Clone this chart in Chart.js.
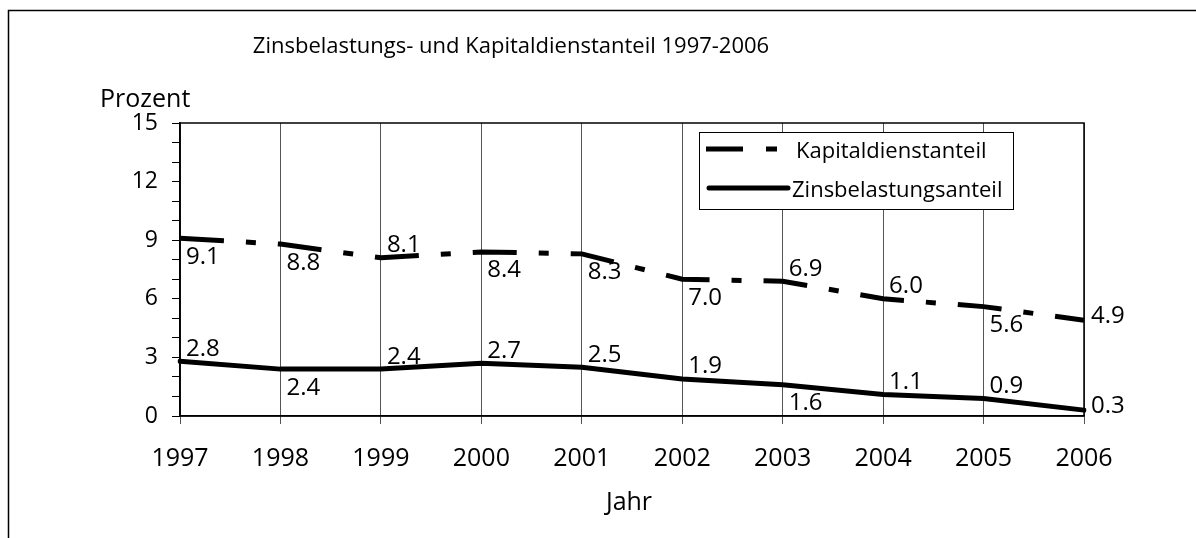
<!DOCTYPE html>
<html>
<head>
<meta charset="utf-8">
<script src="https://cdn.jsdelivr.net/npm/chart.js@4"></script>
<style>
  html, body { margin: 0; padding: 0; background: #fff; }
  canvas { display: block; }
</style>
</head>
<body>
<canvas id="zinsChart" width="1196" height="538"></canvas>
<script>
"use strict";

// data
const years = ["1997", "1998", "1999", "2000", "2001", "2002", "2003", "2004", "2005", "2006"];
const kapitaldienst = [9.1, 8.8, 8.1, 8.4, 8.3, 7.0, 6.9, 6.0, 5.6, 4.9];
const zinsbelastung = [2.8, 2.4, 2.4, 2.7, 2.5, 1.9, 1.6, 1.1, 0.9, 0.3];
const yTicks = [0, 3, 6, 9, 12, 15];

// where each value label sits (a = above, b = below, r = right)
const kapitalLabelPos = ["b", "b", "a", "b", "b", "b", "a", "a", "b", "r"];
const zinsLabelPos = ["a", "b", "a", "a", "a", "a", "b", "a", "a", "r"];

const FONT = "'Open Sans', 'Noto Sans', sans-serif";
const DASH = [44, 22, 10, 22];

Chart.defaults.font.family = FONT;
Chart.defaults.color = "#000";

// value labels, legend box, title and frame
const extras = {
    id: "extras",
    afterDatasetsDraw(chart) {
        const c = chart.ctx;
        c.save();
        c.font = "24px " + FONT;
        c.fillStyle = "#000";
        c.textBaseline = "alphabetic";
        c.textAlign = "left";
        const sets = [[kapitaldienst, kapitalLabelPos], [zinsbelastung, zinsLabelPos]];
        sets.forEach(function (s, i) {
            const meta = chart.getDatasetMeta(i);
            meta.data.forEach(function (pt, j) {
                const txt = s[0][j].toFixed(1);
                const pos = s[1][j];
                let x = pt.x + 6, y = pt.y;
                if (pos === "a") y = y - 14 + 8.5;
                else if (pos === "b") y = y + 17 + 8.5;
                else { x = pt.x + 7; y = y - 6 + 8.5; }
                c.fillText(txt, x, y);
            });
        });
        c.restore();
    },
    afterDraw(chart) {
        const c = chart.ctx;
        const a = chart.chartArea;
        c.save();
        // plot area border
        c.strokeStyle = "#000";
        c.lineWidth = 1.5;
        c.strokeRect(a.left, a.top, a.right - a.left, a.bottom - a.top);

        // legend
        c.fillStyle = "#fff";
        c.fillRect(699, 132, 314, 77);
        c.lineWidth = 1;
        c.strokeRect(699.5, 132.5, 314, 77);
        c.strokeStyle = "#000";
        c.lineWidth = 5;
        c.setLineDash([37, 23, 11, 100]);
        c.beginPath();
        c.moveTo(706, 149);
        c.lineTo(790, 149);
        c.stroke();
        c.setLineDash([]);
        c.lineCap = "round";
        c.beginPath();
        c.moveTo(709, 188);
        c.lineTo(788, 188);
        c.stroke();
        c.fillStyle = "#000";
        c.font = "22px " + FONT;
        c.textAlign = "left";
        c.textBaseline = "alphabetic";
        c.fillText("Kapitaldienstanteil", 796, 158);
        c.fillText("Zinsbelastungsanteil", 792, 197);

        // title and axis titles
        c.textAlign = "center";
        c.font = "22px " + FONT;
        c.fillText("Zinsbelastungs- und Kapitaldienstanteil 1997-2006", 511, 53);
        c.font = "25px " + FONT;
        c.fillText("Jahr", 629, 510);
        c.textAlign = "left";
        c.fillText("Prozent", 100, 107);

        // outer frame
        c.lineWidth = 1.5;
        c.beginPath();
        c.moveTo(8.5, 538);
        c.lineTo(8.5, 10.5);
        c.lineTo(1196, 10.5);
        c.stroke();
        c.restore();
    }
};

const ctx = document.getElementById("zinsChart").getContext("2d");

new Chart(ctx, {
    type: "line",
    data: {
        labels: years,
        datasets: [{
            label: "Kapitaldienstanteil",
            data: kapitaldienst,
            borderColor: "#000",
            borderWidth: 5,
            borderDash: DASH,
            borderCapStyle: "butt",
            pointRadius: 0,
            tension: 0,
            fill: false
        }, {
            label: "Zinsbelastungsanteil",
            data: zinsbelastung,
            borderColor: "#000",
            borderWidth: 5,
            borderCapStyle: "round",
            pointRadius: 0,
            tension: 0,
            fill: false
        }]
    },
    options: {
        responsive: false,
        animation: false,
        layout: { padding: { top: 123, right: 112, left: 0, bottom: 0 } },
        plugins: {
            legend: { display: false },
            title: { display: false },
            tooltip: { enabled: false }
        },
        scales: {
            x: {
                offset: false,
                afterFit: function (scale) { scale.height = 122; },
                grid: { color: "#555", lineWidth: 1, tickLength: 8, offset: false },
                border: { color: "#000", width: 1.5 },
                ticks: { font: { size: 25 }, padding: 20, maxRotation: 0, autoSkip: false }
            },
            y: {
                min: 0,
                max: 15,
                afterFit: function (scale) { scale.width = 180; },
                grid: { drawOnChartArea: false, color: "#000", tickLength: 8 },
                border: { color: "#000", width: 1.5 },
                ticks: {
                    stepSize: 1,
                    autoSkip: false,
                    padding: 14,
                    font: { size: 23 },
                    callback: function (v) { return yTicks.includes(v) ? String(v) : ""; }
                }
            }
        }
    },
    plugins: [extras]
});
</script>
</body>
</html>
